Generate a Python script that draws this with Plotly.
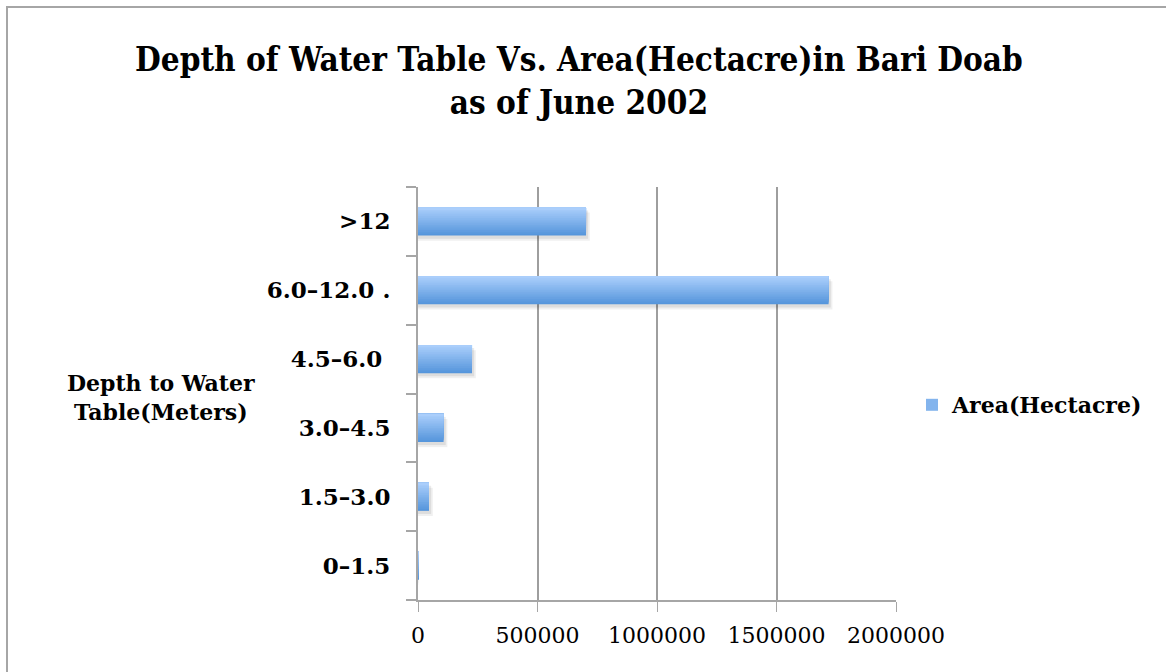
import plotly.graph_objects as go

# Depth bands (bottom to top) and the area in each band
depth_bands = ["0–1.5", "1.5–3.0", "3.0–4.5", "4.5–6.0\u00a0", "6.0–12.0 .", ">12"]
area_hectacre = [1500, 46000, 107000, 226000, 1718000, 703000]
x_ticks = [0, 500000, 1000000, 1500000, 2000000]

W, H = 1166, 672
PL, PR, PT, PB = 418, 896, 187, 600  # plot area in pixels


def px_x(p):
    return (p - PL) / (PR - PL)


def px_y(p):
    return (PB - p) / (PB - PT)


SERIF_C = "DejaVu Serif Condensed, DejaVu Serif"
SERIF = "DejaVu Serif"
BAR_W = 0.41
N_SLICES = 16
dark = (86, 150, 220)
light = (170, 206, 251)

fig = go.Figure()

# soft drop shadow behind each bar
for alpha, dy, dx in [(0.06, 0.075, 16000), (0.08, 0.045, 9000)]:
    fig.add_trace(go.Bar(
        y=depth_bands, x=[v + dx if v > 5000 else v for v in area_hectacre],
        orientation="h", width=BAR_W, offset=-BAR_W / 2 - dy,
        marker=dict(color=f"rgba(0,0,0,{alpha})", line=dict(width=0)),
        showlegend=False, hoverinfo="skip",
    ))

# vertical gradient: each layer runs from its start to the top of the bar,
# later (lighter) layers cover the upper part of the earlier ones
sw = BAR_W / N_SLICES
for i in range(N_SLICES):
    t = i / (N_SLICES - 1)
    c = tuple(round(d + (l - d) * t) for d, l in zip(dark, light))
    fig.add_trace(go.Bar(
        y=depth_bands, x=area_hectacre, orientation="h",
        width=BAR_W - i * sw, offset=-BAR_W / 2 + i * sw,
        marker=dict(color=f"rgb{c}", line=dict(width=0)),
        name="Area(Hectacre)", showlegend=(i == N_SLICES // 2),
        hoverinfo="skip",
    ))

fig.update_layout(
    width=W, height=H,
    margin=dict(l=PL, r=W - PR, t=PT, b=H - PB, pad=0),
    paper_bgcolor="white", plot_bgcolor="white",
    barmode="overlay",
    xaxis=dict(
        range=[0, 2000000], tickvals=x_ticks, ticktext=[str(v) for v in x_ticks],
        showgrid=True, gridcolor="#9e9e9e", gridwidth=2,
        showline=True, linecolor="#a6a6a6", linewidth=2,
        ticks="outside", ticklen=10, tickcolor="#a6a6a6", tickwidth=1,
        zeroline=False, ticklabelstandoff=5,
        tickfont=dict(family=SERIF, size=22, color="black"),
    ),
    yaxis=dict(
        type="category", categoryorder="array", categoryarray=depth_bands,
        range=[-0.5, len(depth_bands) - 0.5],
        tickson="boundaries", showgrid=False,
        showline=True, linecolor="#a6a6a6", linewidth=2,
        ticks="outside", ticklen=10, tickcolor="#a6a6a6", tickwidth=2,
        ticklabelstandoff=21,
        tickfont=dict(family=SERIF, size=23, color="black", weight="bold"),
    ),
    legend=dict(
        x=px_x(912), y=px_y(405), xanchor="left", yanchor="middle",
        xref="paper", yref="paper",
        font=dict(family=SERIF, size=22, color="black", weight="bold"),
        itemwidth=30, bgcolor="rgba(0,0,0,0)",
    ),
    shapes=[dict(
        type="rect", xref="paper", yref="paper",
        x0=px_x(7), x1=px_x(1180), y0=px_y(7), y1=px_y(690),
        line=dict(color="#a6a6a6", width=2), layer="below",
    )],
    annotations=[
        dict(
            text="Depth of Water Table Vs. Area(Hectacre)in Bari Doab<br>as of June 2002",
            xref="paper", yref="paper", x=px_x(579), y=px_y(81),
            xanchor="center", yanchor="middle", showarrow=False, align="center",
            font=dict(family=SERIF_C, size=33, color="black", weight="bold"),
        ),
        dict(
            text="Depth to Water<br>Table(Meters)", xref="paper", yref="paper",
            x=px_x(161), y=px_y(397), xanchor="center", yanchor="middle",
            showarrow=False, align="center",
            font=dict(family=SERIF, size=22, color="black", weight="bold"),
        ),
    ],
)

fig.write_html("out.html")
